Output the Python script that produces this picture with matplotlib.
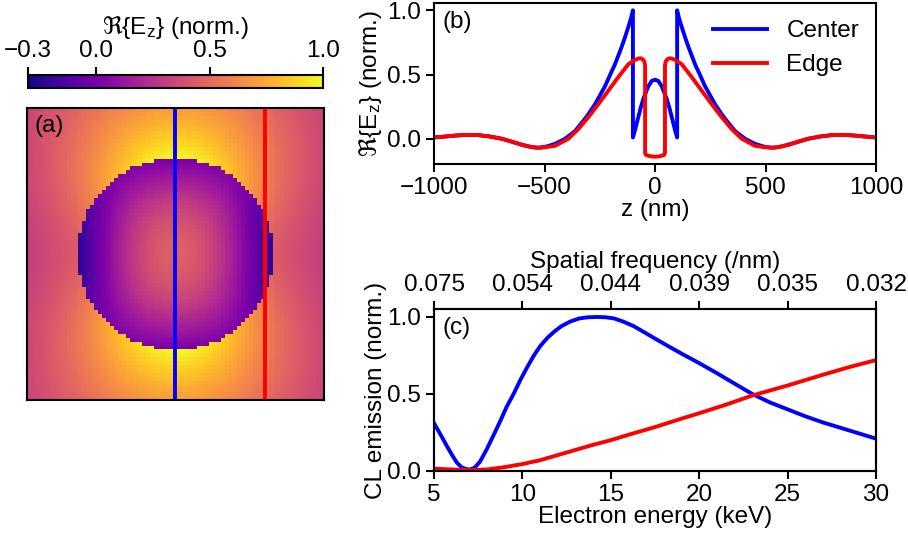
import numpy as np
import matplotlib

matplotlib.use("Agg")
import matplotlib.pyplot as plt

plt.rcParams.update({
    "font.family": ["Liberation Sans", "DejaVu Sans"],
    "font.size": 17.5,
    "mathtext.fontset": "custom",
    "mathtext.rm": "Liberation Sans",
    "mathtext.it": "Liberation Sans:italic",
    "mathtext.sf": "DejaVu Sans",
    "axes.linewidth": 1.5,
    "xtick.major.width": 1.5,
    "ytick.major.width": 1.5,
    "xtick.major.size": 6,
    "ytick.major.size": 6,
})

BLUE = "#0000ff"
RED = "#ff0000"
LW = 2.8
EZ_LABEL = r"$\mathsf{\Re}\{\mathrm{E_z}\}$ (norm.)"

# --- (b) field profiles along z, right half (z >= 0) ---
center_z = [0, 15, 30, 53, 65, 80, 90, 100, 100, 110, 120, 136, 150, 181, 200,
            226, 250, 271, 300, 317, 350, 362, 407, 452, 500, 530, 560, 603,
            650, 694, 750, 800, 850, 900, 950, 1000]
center_v = [0.46, 0.45, 0.41, 0.31, 0.24, 0.14, 0.07, 0.01, 1.0, 0.93, 0.875,
            0.79, 0.72, 0.58, 0.51, 0.41, 0.335, 0.27, 0.195, 0.155, 0.085,
            0.06, 0.0, -0.04, -0.065, -0.07, -0.065, -0.047, -0.022, 0.0,
            0.018, 0.028, 0.03, 0.025, 0.017, 0.01]

edge_z = [0, 20, 35, 42, 45, 45, 48, 55, 65, 75, 90, 121, 166, 211, 256, 302,
          347, 392, 452, 500, 530, 560, 603, 650, 694, 750, 800, 850, 900,
          950, 1000]
edge_v = [-0.14, -0.137, -0.13, -0.125, -0.11, 0.57, 0.60, 0.618, 0.627, 0.625,
          0.615, 0.58, 0.48, 0.375, 0.27, 0.167, 0.075, 0.0, -0.055, -0.067,
          -0.07, -0.065, -0.047, -0.022, 0.0, 0.018, 0.028, 0.03, 0.025,
          0.017, 0.01]

# --- (c) CL emission vs electron energy ---
energy_center = [5, 5.4, 5.75, 6.05, 6.3, 6.55, 6.8, 7.05, 7.3, 7.6, 8.0, 8.4,
                 8.77, 9.1, 9.5, 9.9, 10.3, 10.65, 11.0, 11.4, 11.8, 12.2,
                 12.7, 13.2, 13.7, 14.25, 14.7, 15.2, 15.7, 16.3, 16.9, 17.6,
                 18.3, 19.0, 20, 21, 22, 23, 24, 25, 26, 27, 28, 29, 30]
cl_center = [0.31, 0.23, 0.157, 0.098, 0.053, 0.025, 0.012, 0.01, 0.022, 0.06,
             0.145, 0.24, 0.33, 0.415, 0.50, 0.595, 0.68, 0.75, 0.81, 0.863,
             0.905, 0.94, 0.97, 0.99, 0.998, 1.0, 0.998, 0.99, 0.97, 0.94,
             0.90, 0.853, 0.807, 0.762, 0.70, 0.635, 0.567, 0.50, 0.445, 0.40,
             0.355, 0.315, 0.28, 0.245, 0.21]
energy_edge = [5, 6, 7, 8, 9, 10, 11, 12.5, 14, 15, 16, 17.5, 19, 20, 21.5, 23,
               25, 27, 28.5, 30]
cl_edge = [0.015, 0.01, 0.006, 0.01, 0.025, 0.045, 0.07, 0.12, 0.17, 0.2, 0.235,
           0.285, 0.34, 0.375, 0.43, 0.49, 0.555, 0.625, 0.675, 0.72]

energy_ticks = [5, 10, 15, 20, 25, 30]
freq_labels = ["0.075", "0.054", "0.044", "0.039", "0.035", "0.032"]
cbar_ticks = [-0.3, 0.0, 0.5, 1.0]
cbar_labels = ["\u22120.3", "0.0", "0.5", "1.0"]

# --- (a) field map: sphere of radius R in a +-HALF nm window ---
R_NM = 100.0
HALF_NM = 150.0
N_PIX = 75
EDGE_X_NM = 90.0
S_POLE, S_EQ, DECAY_NM = 1.0, 0.45, 150.0      # outside: surface value, decay
IN_PEAK, IN_XW, IN_OFF = 0.46, 80.0, -0.062     # inside: peak, width, offset


def mirror(zs, vs):
    zs, vs = np.asarray(zs, float), np.asarray(vs, float)
    return np.concatenate([-zs[::-1], zs]), np.concatenate([vs[::-1], vs])


def field_map():
    g = np.linspace(-HALF_NM, HALF_NM, N_PIX)
    X, Z = np.meshgrid(g, g)
    r = np.hypot(X, Z)
    cos_t = np.divide(Z, r, out=np.zeros_like(r), where=r > 0)
    out = (S_EQ + (S_POLE - S_EQ) * cos_t**2) * np.exp(-(r - R_NM) / DECAY_NM)
    ins = (IN_PEAK * np.cos(np.pi * Z / (2 * R_NM)) * np.cos(np.pi * X / (2 * IN_XW))
           + IN_OFF * (X / R_NM) ** 2)
    return np.where(r <= R_NM, ins, out)


fig = plt.figure(figsize=(9.08, 5.39), dpi=100)

# Colorbar + map (a)
cax = fig.add_axes([0.0308, 0.8367, 0.325, 0.0241])
ax_a = fig.add_axes([0.0297, 0.258, 0.327, 0.5417])
im = ax_a.imshow(field_map(), cmap="plasma", vmin=-0.3, vmax=1.0,
                 extent=[-HALF_NM, HALF_NM, -HALF_NM, HALF_NM], origin="lower",
                 interpolation="nearest", aspect="auto")
ax_a.axvline(0, color=BLUE, lw=LW)
ax_a.axvline(EDGE_X_NM, color=RED, lw=LW)
ax_a.set_xticks([])
ax_a.set_yticks([])
ax_a.text(0.025, 0.975, "(a)", transform=ax_a.transAxes, va="top", ha="left")

cb = fig.colorbar(im, cax=cax, orientation="horizontal", ticks=cbar_ticks)
cb.set_ticklabels(cbar_labels)
cax.xaxis.set_ticks_position("top")
cax.xaxis.set_label_position("top")
cb.set_label(EZ_LABEL, labelpad=4)
cb.outline.set_linewidth(1.5)

# (b) line profiles
ax_b = fig.add_axes([0.478, 0.6957, 0.4868, 0.2987])
zc, vc = mirror(center_z, center_v)
ze, ve = mirror(edge_z, edge_v)
ax_b.plot(zc, vc, color=BLUE, lw=LW, label="Center")
ax_b.plot(ze, ve, color=RED, lw=LW, label="Edge")
ax_b.set_xlim(-1000, 1000)
ax_b.set_xticks([-1000, -500, 0, 500, 1000])
ax_b.set_yticks([0.0, 0.5, 1.0])
ax_b.set_xlabel("z (nm)", labelpad=0)
ax_b.set_ylabel(EZ_LABEL, labelpad=2)
ax_b.legend(loc="upper right", frameon=False, handlelength=2.2,
            borderaxespad=0.3)
ax_b.text(0.02, 0.95, "(b)", transform=ax_b.transAxes, va="top", ha="left")

# (c) CL emission
ax_c = fig.add_axes([0.478, 0.1262, 0.4868, 0.3006])
ax_c.plot(energy_center, cl_center, color=BLUE, lw=LW)
ax_c.plot(energy_edge, cl_edge, color=RED, lw=LW)
ax_c.set_xlim(5, 30)
ax_c.set_ylim(0, 1.052)
ax_c.set_xticks(energy_ticks)
ax_c.set_yticks([0.0, 0.5, 1.0])
ax_c.set_xlabel("Electron energy (keV)", labelpad=0)
ax_c.set_ylabel("CL emission (norm.)", labelpad=0)
ax_c.text(0.02, 0.95, "(c)", transform=ax_c.transAxes, va="top", ha="left")

ax_t = ax_c.twiny()
ax_t.set_xlim(5, 30)
ax_t.set_xticks(energy_ticks)
ax_t.set_xticklabels(freq_labels)
ax_t.set_xlabel("Spatial frequency (/nm)")

fig.savefig("out.png", dpi=100, facecolor="white")
